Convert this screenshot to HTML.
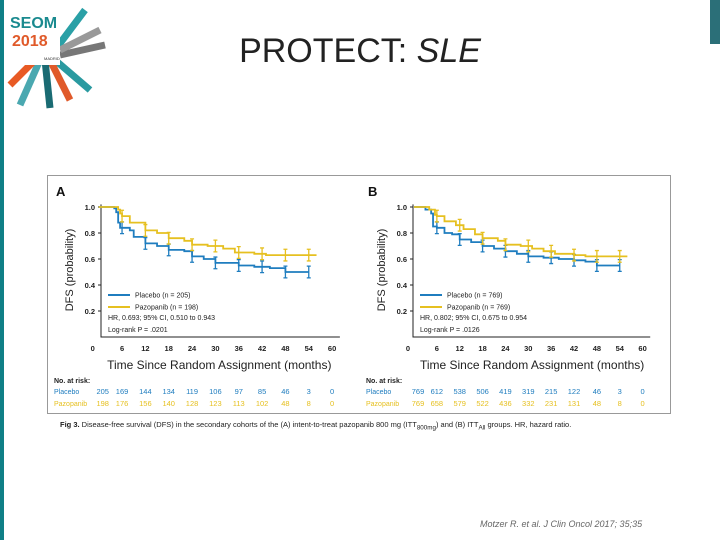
<!DOCTYPE html>
<html><head><meta charset="utf-8"><style>
body{margin:0;width:720px;height:540px;background:#fff;overflow:hidden;font-family:"Liberation Sans",sans-serif;position:relative}
</style></head><body>
<div style="position:absolute;left:0;top:0;width:4px;height:540px;background:#0f7f86"></div>
<div style="position:absolute;left:710px;top:0;width:10px;height:44px;background:#2b6f78"></div>
<svg style="position:absolute;left:0;top:0" width="115" height="110">
<g stroke-width="7">
<line x1="60" y1="55" x2="105" y2="45" stroke="#777"/><line x1="55" y1="60" x2="90" y2="90" stroke="#2a9aa0"/>
<line x1="50" y1="60" x2="70" y2="100" stroke="#e05a2a"/><line x1="40" y1="60" x2="20" y2="105" stroke="#4aa8b0"/>
<line x1="45" y1="60" x2="50" y2="108" stroke="#1a6b73"/><line x1="55" y1="50" x2="85" y2="10" stroke="#2aa0a6"/>
<line x1="35" y1="60" x2="10" y2="85" stroke="#e85a24"/><line x1="60" y1="50" x2="100" y2="30" stroke="#999"/>
</g>
<rect x="6" y="5" width="54" height="60" fill="#fff"/>
<text x="10" y="28" font-size="16" font-weight="bold" fill="#1a8a8f">SEOM</text>
<text x="12" y="46" font-size="16" font-weight="bold" fill="#e05a2a">2018</text>
<text x="44" y="60" font-size="4" fill="#333">MADRID</text>
</svg>
<div style="position:absolute;left:0;width:720px;top:31px;text-align:center;font-size:34px;color:#222;line-height:40px">PROTECT: <i>SLE</i></div>
<div style="position:absolute;left:47px;top:175px;width:622px;height:237px;border:1px solid #999"></div>
<svg id="chart" style="position:absolute;left:0;top:0" width="720" height="540"></svg>
<div style="position:absolute;left:60px;top:420px;font-size:7.5px;color:#222"><b>Fig 3.</b> Disease-free survival (DFS) in the secondary cohorts of the (A) intent-to-treat pazopanib 800 mg (ITT<sub>800mg</sub>) and (B) ITT<sub>All</sub> groups. HR, hazard ratio.</div>
<div style="position:absolute;left:480px;top:519px;font-size:9px;color:#666;font-style:italic">Motzer R. et al. J Clin Oncol 2017; 35;35</div>
<script>
const xTicks=[0,6,12,18,24,30,36,42,48,54,60];
const yTicks=[0.2,0.4,0.6,0.8,1.0];
const placeboA=[[0,1],[4,0.99],[4.5,0.96],[5,0.88],[5.5,0.84],[8,0.82],[9,0.77],[12,0.72],[15,0.70],[18,0.67],[22,0.66],[24,0.62],[27,0.60],[30,0.57],[36,0.55],[40,0.54],[44,0.53],[48,0.50],[54,0.50]];
const pazoA=[[0,1],[5,0.98],[5.5,0.95],[6,0.93],[8,0.88],[12,0.82],[15,0.80],[18,0.76],[22,0.74],[24,0.71],[28,0.70],[32,0.68],[35,0.65],[40,0.64],[43,0.63],[56,0.63]];
const placeboB=[[0,1],[3,0.98],[4.5,0.95],[5,0.85],[6,0.84],[8,0.80],[10,0.79],[12,0.75],[15,0.73],[18,0.70],[21,0.68],[24,0.66],[27,0.64],[30,0.62],[34,0.61],[38,0.60],[42,0.59],[45,0.58],[48,0.55],[54,0.55]];
const pazoB=[[0,1],[4,0.98],[5.5,0.94],[6,0.93],[8,0.89],[11,0.86],[13,0.83],[16,0.79],[18,0.76],[22,0.74],[24,0.71],[28,0.70],[31,0.68],[34,0.66],[37,0.64],[42,0.63],[45,0.62],[56,0.62]];
const riskPlaceboA=[205,169,144,134,119,106,97,85,46,3,0];
const riskPazoA=[198,176,156,140,128,123,113,102,48,8,0];
const riskPlaceboB=[769,612,538,506,419,319,215,122,46,3,0];
const riskPazoB=[769,658,579,522,436,332,231,131,48,8,0];
const svg=document.getElementById('chart');const NS='http://www.w3.org/2000/svg';
const BLUE='#1f7dbf',GOLD='#e6c020';
function mk(tag,at,txt){const e=document.createElementNS(NS,tag);for(const k in at)e.setAttribute(k,at[k]);if(txt!==undefined)e.textContent=txt;svg.appendChild(e);return e;}
function valAt(s,t){let v=1;for(const p of s){if(p[0]<=t)v=p[1];}return v;}
function panel(letter,x0,k,axisX,pl,pz,rpl,rpz,npl,hr,p){
 const X=t=>x0+t*k, Y=v=>337-v*130;
 let e=mk('text',{x:axisX-45,y:196,'font-size':13,'font-weight':'bold',fill:'#111'},letter);
 
 e=mk('path',{d:`M${axisX},${Y(1.02)}V337H${X(62)}`,stroke:'#222','stroke-width':1,fill:'none'});
 
 yTicks.forEach(v=>{e=mk('text',{x:axisX-6,y:Y(v)+3,'font-size':7.5,'text-anchor':'end',fill:'#222','font-weight':'bold'},v.toFixed(1));
  
  mk('line',{x1:axisX-3,x2:axisX,y1:Y(v),y2:Y(v),stroke:'#222'});});
 xTicks.forEach(t=>{e=mk('text',{x:t===0?X(0)-6:X(t),y:351,'font-size':7.5,'text-anchor':'middle',fill:'#222','font-weight':'bold'},t);
  });
 e=mk('text',{x:axisX-28,y:270,'font-size':11,'text-anchor':'middle',fill:'#222',transform:`rotate(-90 ${axisX-28} 270)`},'DFS (probability)');
 
 e=mk('text',{x:X(31),y:369,'font-size':12,'text-anchor':'middle',fill:'#222'},'Time Since Random Assignment (months)');
 
 [[pl,BLUE,'placebo'],[pz,GOLD,'pazopanib']].forEach(([s,c,n])=>{
  let d=`M${X(s[0][0])},${Y(s[0][1])}`;for(let i=1;i<s.length;i++){d+=`H${X(s[i][0])}V${Y(s[i][1])}`;}
  e=mk('path',{d:d,stroke:c,'stroke-width':1.8,fill:'none'});
  
  xTicks.slice(1,10).forEach(t=>{const v=valAt(s,t);
   e=mk('path',{d:`M${X(t)},${Y(v+0.045)}V${Y(v-0.045)}M${X(t)-2},${Y(v+0.045)}h4M${X(t)-2},${Y(v-0.045)}h4`,stroke:c,'stroke-width':1.3,fill:'none'});
   });
 });
 const lx=axisX+7;
 [[BLUE,'Placebo      (n = '+npl+')',295],[GOLD,'Pazopanib  (n = '+(letter==='A'?198:769)+')',307]].forEach(([c,t,y])=>{
  mk('line',{x1:lx,x2:lx+22,y1:y,y2:y,stroke:c,'stroke-width':2});
  e=mk('text',{x:lx+27,y:y+2.5,'font-size':7,fill:'#222'},t);
  });
 e=mk('text',{x:lx,y:320,'font-size':7,fill:'#222'},hr);
 e=mk('text',{x:lx,y:332,'font-size':7,fill:'#222'},'Log-rank P = '+p);
 const tx=axisX-47;
 e=mk('text',{x:tx,y:383,'font-size':7,fill:'#222','font-weight':'bold'},'No. at risk:');
 [[rpl,BLUE,'Placebo',394],[rpz,GOLD,'Pazopanib',406]].forEach(([r,c,n,y])=>{
  e=mk('text',{x:tx,y:y,'font-size':7,fill:c},n);
  r.forEach((v,i)=>{e=mk('text',{x:X(xTicks[i])+(i===0?4:0),y:y,'font-size':7.5,fill:c,'text-anchor':'middle'},v);
   });});
}
panel('A',98.7,3.89,101,placeboA,pazoA,riskPlaceboA,riskPazoA,205,'HR, 0.693; 95% CI, 0.510 to 0.943','.0201');
panel('B',414,3.81,413,placeboB,pazoB,riskPlaceboB,riskPazoB,769,'HR, 0.802; 95% CI, 0.675 to 0.954','.0126');
</script>
</body></html>
